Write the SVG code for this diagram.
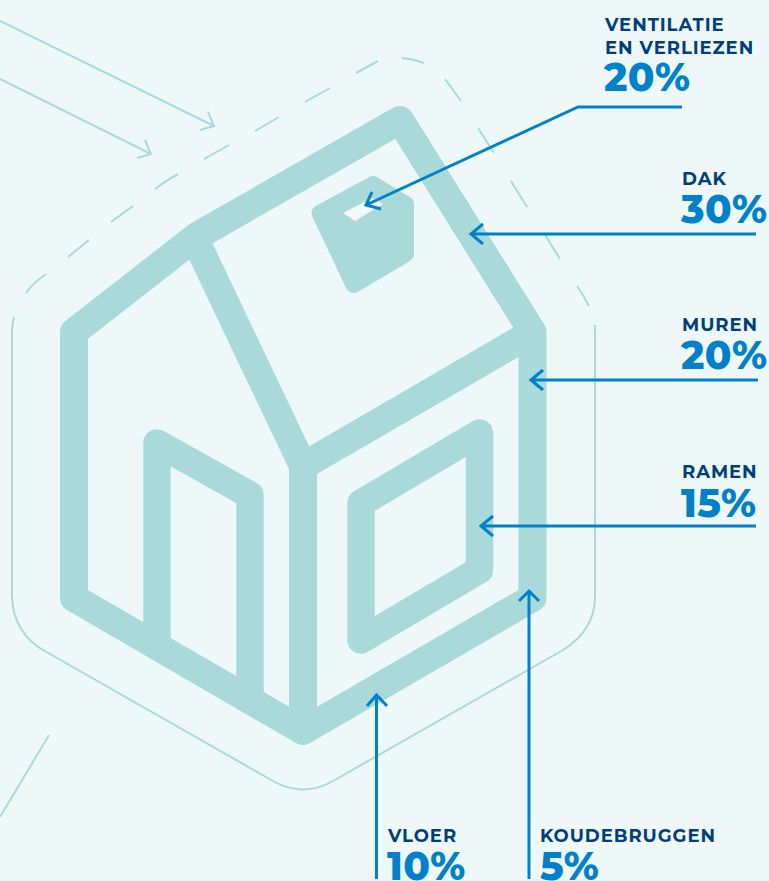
<svg xmlns="http://www.w3.org/2000/svg" width="769" height="881" viewBox="0 0 769 881">
<style>
.lbl{font-family:"Montserrat","Liberation Sans",Arial,sans-serif;font-weight:700;font-size:18px;fill:#003f78;letter-spacing:.95px}
.pct{font-family:"Montserrat","Liberation Sans",Arial,sans-serif;font-weight:800;font-size:39px;fill:#0081c9;letter-spacing:.4px}
.h{fill:none;stroke:#aad9da;stroke-linejoin:round;stroke-linecap:butt}
.thin{fill:none;stroke:#aad9da;stroke-width:2}
.blue{fill:none;stroke:#0081c9;stroke-width:3}
</style>
<rect width="769" height="881" fill="#eef8f9"/>
<g id="house">
<path class="h" stroke-width="28" d="M74 332 L197 236 L400 120 L532.500 332 V598 L303 731 L74 598 Z"/>
<path class="h" stroke-width="28" d="M194.500 238 L303 466 L532 333 M303 466 V731"/>
<path class="h" stroke-width="27.500" d="M157 642 V443 L250 495 V696"/>
<path class="h" stroke-width="27.500" d="M361 503 L479.500 433 V570 L361 640 Z"/>
<path fill="#aad9da" stroke="#aad9da" stroke-width="16" stroke-linejoin="round" d="M319.500 213 L373 184 L406 204 V254 L353.500 285 Z"/>
<path fill="#f1fafa" d="M343 213 L372 198 L383 204 L355 221Z"/>
</g>
<g id="outline">
<path class="thin" d="M14 317 Q12 324 12 331 V596 C12 620 25 640 43 650 L273 781 Q303 798 333 781 L563 650 C582 638 595 620 595 597 V325"/>
<path class="thin" d="M26 293 Q32 284 46 274 M68 257 L89 240 M111 222 L133 206 M155 189 Q165 181 178 174 M204 159 L229 145 M255 131 L279 117 M305 102 L330 88 M356 73 L378 61 M402 58 Q414 59 424 63 M445 79 L461 101 M478 128 L494 153 M511 181 L527 207 M544 233 L560 259 M577 286 Q584 296 589 306"/>
<path class="thin" d="M0 21 L214 126 M208 112 L214 126 L200 130 M0 79 L151 154 M145 140 L151 154 L137 158 M49 735 L0 817"/>
</g>
<g id="connectors">
<path class="blue" d="M682 107 H578 L366 205 M372 192 L366 205 L381 209"/>
<path class="blue" d="M756 234 H471 M483 224 L471 234 L483 244"/>
<path class="blue" d="M758 380 H531 M543 370 L531 380 L543 390"/>
<path class="blue" d="M756 526 H481 M493 516 L481 526 L493 536"/>
<path class="blue" d="M376.500 879 V694 M367 706 L376.500 695 L387 706"/>
<path class="blue" d="M529 879 V590 M519 601 L529 591 L539 601"/>
</g>
<g id="n1"><text class="lbl" x="605" y="31">VENTILATIE</text><text class="lbl" x="605" y="54">EN VERLIEZEN</text><text class="pct" x="604" y="91">20%</text></g>
<g id="n2"><text class="lbl" x="682" y="185">DAK</text><text class="pct" x="681" y="223">30%</text></g>
<g id="n3"><text class="lbl" x="682" y="331">MUREN</text><text class="pct" x="681" y="369">20%</text></g>
<g id="n4"><text class="lbl" x="682" y="478">RAMEN</text><text class="pct" x="681" y="517">15%</text></g>
<g id="n5"><text class="lbl" x="388" y="842">VLOER</text><text class="pct" x="387" y="880">10%</text></g>
<g id="n6"><text class="lbl" x="540" y="842">KOUDEBRUGGEN</text><text class="pct" x="540" y="880">5%</text></g>
</svg>
